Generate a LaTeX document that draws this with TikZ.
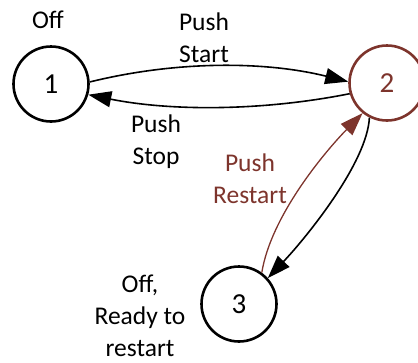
\documentclass[tikz,border=0pt]{standalone}
\usepackage{fontspec}
\setmainfont{Carlito}
\usetikzlibrary{arrows.meta}
\definecolor{rust}{RGB}{125,52,44}
\begin{document}
\begin{tikzpicture}[x=1pt,y=-1pt,
  every node/.style={font=\fontsize{25.5}{32}\selectfont},
  state/.style={circle,draw,line width=2.6pt,minimum size=75pt,inner sep=0pt,
    font=\fontsize{29}{32}\selectfont},
  lbl/.style={align=center,anchor=base},
  edge/.style={line width=1.6pt,-{Triangle[length=23pt,width=16pt]}}]
  \useasboundingbox (0,0) rectangle (418,362);
  % states
  \node[state] (n1) at (51,84) {1};
  \node[state,draw=rust,text=rust] (n2) at (387,83) {2};
  \node[state] (n3) at (239,304) {3};
  % labels (anchored at the baseline of their last line)
  \node[lbl] (l1) at (48,28) {Off};
  \node[lbl] (l2) at (204,62) {Push\\Start};
  \node[lbl] (l3) at (156,164) {Push\\Stop};
  \node[lbl,text=rust] (l4) at (250,203) {Push\\Restart};
  \node[lbl] (l5) at (140,356) {Off,\\Ready to\\restart};
  % transitions
  \draw[edge] (n1.3) .. controls +(85,-21) and +(-85,-21) .. (n2.178);
  \draw[edge] (n2.196) .. controls +(-85,17) and +(85,17) .. (n1.344);
  \draw[edge] (n2.243) .. controls +(-2,45) and +(38,-40) .. (n3.42);
  \draw[edge,draw=rust,line width=1.3pt] (n3.54) .. controls +(9,-56) and +(-39,40) .. (n2.231);
\end{tikzpicture}
\end{document}
